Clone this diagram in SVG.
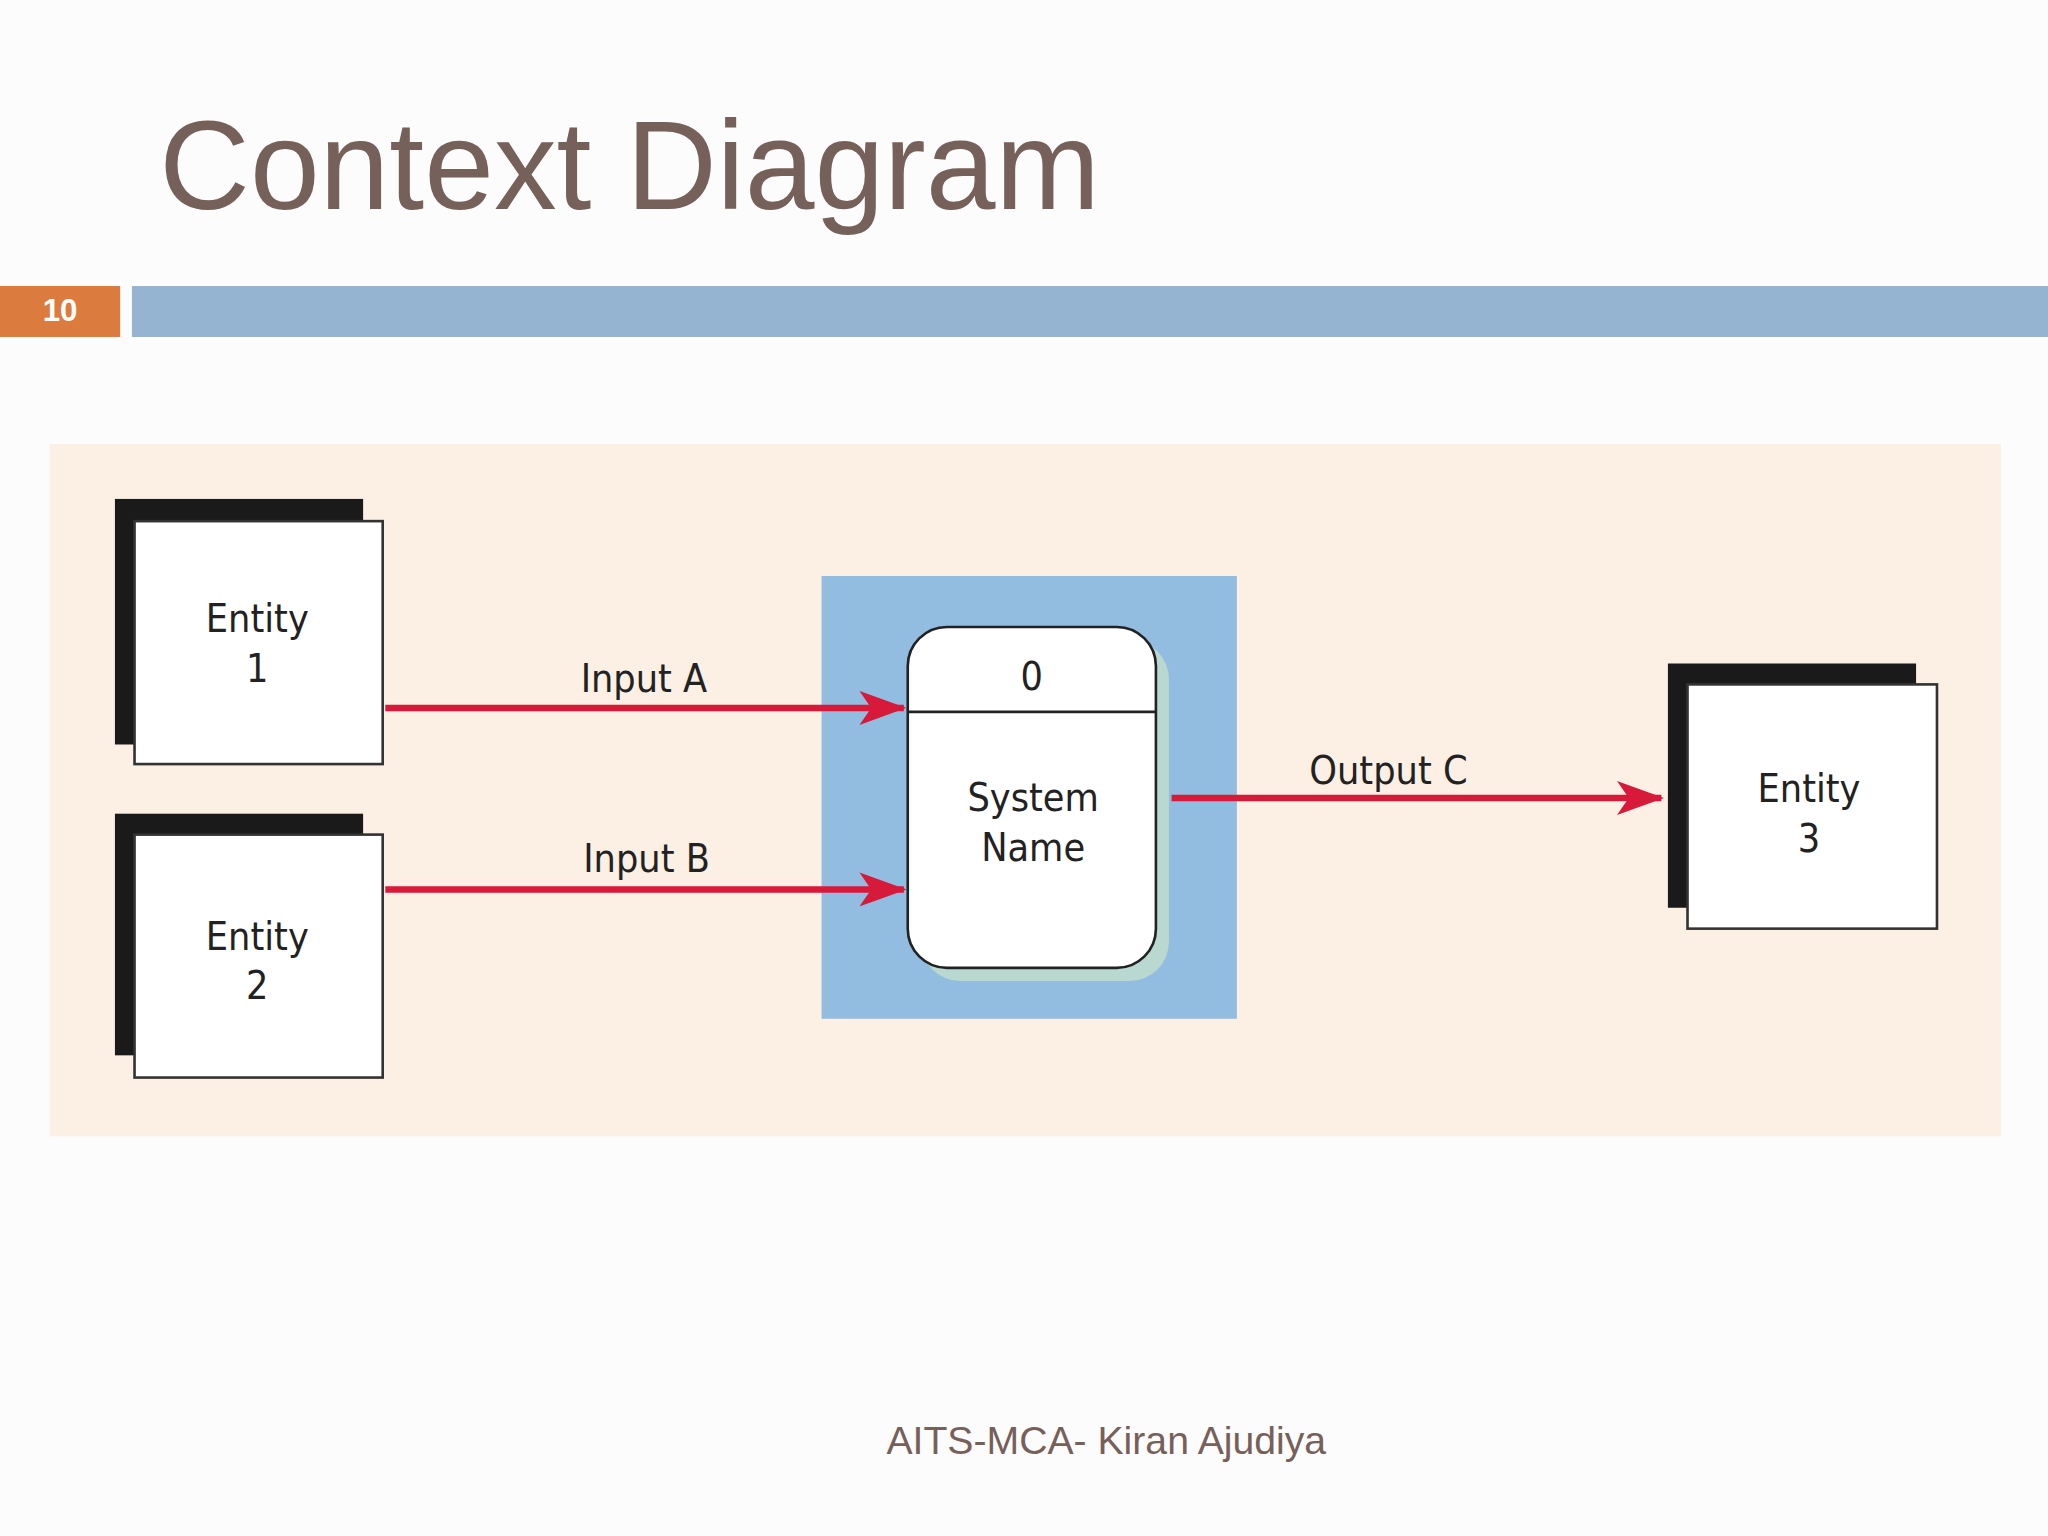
<svg xmlns="http://www.w3.org/2000/svg" width="2048" height="1536" viewBox="0 0 2048 1536">
<style>
.lbl{font-family:"DejaVu Sans Condensed","Liberation Sans Narrow","Liberation Sans",sans-serif;font-size:30px;fill:#222;text-anchor:middle}
.box{fill:#fff;stroke:#333;stroke-width:2}
.flow{stroke:#d7193a;stroke-width:5;fill:none}
</style>
<defs>
<marker id="ah2" markerWidth="36" markerHeight="26" refX="34" refY="13" orient="auto" markerUnits="userSpaceOnUse"><path d="M0,0 L36,13 L0,26 L9,13 Z" fill="#d7193a"/></marker></defs>
<rect width="2048" height="1536" fill="#fdfcfc"/>
<g transform="scale(1.30612)">
<text x="122" y="160" font-family="Liberation Sans,Arial,sans-serif" font-size="96" fill="#76605a">Context Diagram</text>
<rect x="0" y="219" width="92" height="39" fill="#dc7b3e"/>
<text x="46" y="246" font-family="Liberation Sans,Arial,sans-serif" font-size="24" font-weight="bold" fill="#fff" text-anchor="middle">10</text>
<rect x="101" y="219" width="1467" height="39" fill="#94b4d2"/>
<rect x="38" y="340" width="1494" height="530" fill="#fcefe3"/>
<g id="entity1"><rect x="88" y="382" width="190" height="188" fill="#1a1a1a"/><rect class="box" x="103" y="399" width="190" height="186"/><text class="lbl" x="197" y="484">Entity</text><text class="lbl" x="197" y="522">1</text></g>
<g id="entity2"><rect x="88" y="623" width="190" height="185" fill="#1a1a1a"/><rect class="box" x="103" y="639" width="190" height="186"/><text class="lbl" x="197" y="727">Entity</text><text class="lbl" x="197" y="765">2</text></g>
<g id="entity3"><rect x="1277" y="508" width="190" height="187" fill="#1a1a1a"/><rect class="box" x="1292" y="524" width="191" height="187"/><text class="lbl" x="1385" y="614">Entity</text><text class="lbl" x="1385" y="652">3</text></g>
<g id="process">
<rect x="629" y="441" width="318" height="339" fill="#93bde0"/>
<rect x="705" y="490" width="190" height="261" rx="30" fill="#b9d8cf"/>
<rect x="695" y="480" width="190" height="261" rx="30" fill="#fff" stroke="#222" stroke-width="2"/>
<line x1="695" y1="545" x2="885" y2="545" stroke="#222" stroke-width="2"/>
<text class="lbl" x="790" y="528">0</text>
<text class="lbl" x="791" y="621">System</text>
<text class="lbl" x="791" y="659">Name</text>
</g>
<g id="connectors">
<line class="flow" x1="295" y1="542" x2="692" y2="542" marker-end="url(#ah2)"/>
<line class="flow" x1="295" y1="681" x2="692" y2="681" marker-end="url(#ah2)"/>
<line class="flow" x1="897" y1="611" x2="1272" y2="611" marker-end="url(#ah2)"/>
<text class="lbl" x="493" y="530">Input A</text>
<text class="lbl" x="495" y="668">Input B</text>
<text class="lbl" x="1063" y="600">Output C</text>
</g>
<text x="847" y="1113" font-family="Liberation Sans,Arial,sans-serif" font-size="30" fill="#76605a" text-anchor="middle">AITS-MCA- Kiran Ajudiya</text>
</g>
</svg>
